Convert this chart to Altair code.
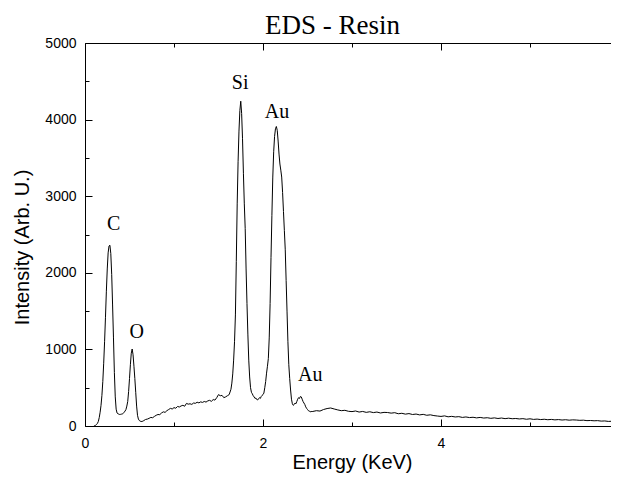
import altair as alt
import pandas as pd

# ---- spectrum data ----
# segment 1: 0.10 .. 0.65 keV, step 0.01  (C and O peaks)
seg1_start, seg1_step = 0.10, 0.01
seg1_counts = [0, 5, 10, 20, 35, 60, 110, 180, 270, 400,
               580, 820, 1100, 1420, 1760, 2050, 2260, 2350, 2360, 2250,
               1980, 1580, 1150, 700, 380, 220, 170, 160, 155, 150,
               152, 155, 158, 165, 180, 195, 215, 260, 320, 450,
               620, 800, 950, 1005, 930, 780, 620, 440, 260, 140,
               90, 72, 63, 60, 58, 64]
# segment 2: 0.66 .. 1.64 keV, step 0.02  (background)
seg2_start, seg2_step = 0.66, 0.02
seg2_counts = [70, 85, 90, 100, 112, 108, 125, 140, 150, 148,
               170, 185, 178, 200, 215, 230, 222, 240, 232, 255,
               248, 262, 270, 258, 295, 285, 290, 282, 300, 296,
               310, 302, 315, 308, 320, 312, 328, 335, 322, 345,
               338, 370, 410, 395, 400, 370, 380, 395, 410, 480]
# segment 3: 1.65 .. 2.55 keV, step 0.01  (Si and Au peaks)
seg3_start, seg3_step = 1.65, 0.01
seg3_counts = [560, 680, 860, 1100, 1450, 2150, 2900, 3450, 3850, 4120,
               4240, 4080, 3750, 3300, 2900, 2580, 2050, 1600, 1200, 860,
               640, 500, 440, 420, 395, 380, 360, 365, 345, 340,
               355, 370, 360, 385, 400, 410, 430, 500, 580, 690,
               780, 880, 1150, 1600, 2200, 2750, 3250, 3580, 3780, 3880,
               3910, 3860, 3720, 3550, 3420, 3340, 3250, 3050, 2800, 2550,
               2300, 1900, 1500, 1100, 800, 620, 470, 350, 290, 270,
               280, 300, 290, 320, 350, 370, 360, 385, 380, 350,
               320, 300, 280, 250, 230, 215, 200, 195, 185, 190,
               188]
# segment 4: 2.56 .. 6.00 keV, step 0.04  (background)
seg4_start, seg4_step = 2.56, 0.04
seg4_counts = [190, 200, 195, 215, 228, 235, 222, 210, 200, 205,
               192, 188, 196, 182, 190, 178, 186, 175, 182, 170,
               178, 176, 168, 174, 160, 166, 155, 162, 150, 156,
               145, 152, 140, 146, 136, 130, 125, 132, 120, 126,
               118, 122, 112, 118, 110, 114, 106, 112, 104, 108,
               100, 106, 98, 104, 96, 102, 95, 98, 92, 96,
               88, 94, 86, 90, 84, 88, 82, 86, 80, 84,
               78, 82, 76, 80, 78, 74, 76, 70, 72, 68,
               70, 64, 66, 60, 62, 58, 56]

# peak labels
label_text = ["C", "O", "Si", "Au", "Au"]
label_energy = [0.322, 0.582, 1.744, 2.157, 2.531]
label_counts = [2559, 1145, 4395, 4017, 591]

# chart title (placed in data units above the frame)
title_text = ["EDS - Resin"]
title_energy = [2.78]
title_counts = [5111]

x_major = [0, 2, 4, 6]
x_minor = [1, 3, 5]
y_major = [0, 1000, 2000, 3000, 4000, 5000]
y_minor = [500, 1500, 2500, 3500, 4500]


def channel_grid(start, step, n):
    return [round(start + i * step, 3) for i in range(n)]


energy = (channel_grid(seg1_start, seg1_step, len(seg1_counts))
          + channel_grid(seg2_start, seg2_step, len(seg2_counts))
          + channel_grid(seg3_start, seg3_step, len(seg3_counts))
          + channel_grid(seg4_start, seg4_step, len(seg4_counts)))
counts = seg1_counts + seg2_counts + seg3_counts + seg4_counts
df = pd.DataFrame({"energy": energy, "counts": counts})
labels = pd.DataFrame({"e": label_energy, "c": label_counts, "t": label_text})
titles = pd.DataFrame({"e": title_energy, "c": title_counts, "t": title_text})

SANS = "Liberation Sans"
SERIF = "Liberation Serif"

xs = alt.Scale(domain=[0, 6], nice=False, zero=False)
ys = alt.Scale(domain=[0, 5000], nice=False)


def tick_axis(orient, values, size):
    return alt.Axis(orient=orient, values=values, ticks=True, tickSize=size,
                    offset=-size, tickColor="black", tickWidth=1,
                    labels=False, domain=False, grid=False)


line = alt.Chart(df).mark_line(color="black", strokeWidth=1).encode(
    x=alt.X("energy:Q", scale=xs, title="Energy (KeV)",
            axis=alt.Axis(orient="bottom", values=x_major, ticks=False, tickSize=0,
                          domain=False, grid=False, labelFont=SANS, labelFontSize=14,
                          labelColor="black", labelPadding=10, labelFlush=False,
                          format="d", titleFont=SANS, titleFontSize=20,
                          titleFontWeight="normal", titleColor="black",
                          titleBaseline="alphabetic", titleY=42)),
    y=alt.Y("counts:Q", scale=ys, title="Intensity (Arb. U.)",
            axis=alt.Axis(orient="left", values=y_major, ticks=False, tickSize=0,
                          domain=False, grid=False, labelFont=SANS, labelFontSize=14,
                          labelColor="black", labelPadding=9, labelFlush=False,
                          format="d", titleFont=SANS, titleFontSize=20,
                          titleFontWeight="normal", titleColor="black",
                          titleBaseline="alphabetic", titleAngle=270,
                          titleX=-56.5, titleY=204)),
)


def ghost(xorient, xvals, yorient, yvals, size):
    return alt.Chart(df).mark_line(strokeOpacity=0).encode(
        x=alt.X("energy:Q", scale=xs, title=None, axis=tick_axis(xorient, xvals, size)),
        y=alt.Y("counts:Q", scale=ys, title=None, axis=tick_axis(yorient, yvals, size)),
    )


ticks_bl_major = ghost("bottom", x_major, "left", y_major, 7)
ticks_bl_minor = ghost("bottom", x_minor, "left", y_minor, 4)
ticks_tr_major = ghost("top", x_major, "right", y_major, 7)
ticks_tr_minor = ghost("top", x_minor, "right", y_minor, 4)

text = alt.Chart(labels).mark_text(font=SERIF, fontSize=20, baseline="alphabetic",
                                   align="center", color="black").encode(
    x=alt.X("e:Q", scale=xs, axis=None),
    y=alt.Y("c:Q", scale=ys, axis=None),
    text="t:N",
)

title = alt.Chart(titles).mark_text(font=SERIF, fontSize=27, baseline="alphabetic",
                                    align="center", color="black").encode(
    x=alt.X("e:Q", scale=xs, axis=None),
    y=alt.Y("c:Q", scale=ys, axis=None),
    text="t:N",
)

chart = alt.layer(line, ticks_bl_major, ticks_bl_minor, ticks_tr_major,
                  ticks_tr_minor, text, title).resolve_axis(
    x="independent", y="independent"
).properties(
    width=534, height=383,
    autosize=alt.AutoSizeParams(type="none"),
    padding={"left": 77, "top": 35, "right": -8, "bottom": 47},
    background="white",
).configure_view(stroke="black", strokeWidth=1)

chart.save("out.html", embed_options={"renderer": "svg", "actions": False})
